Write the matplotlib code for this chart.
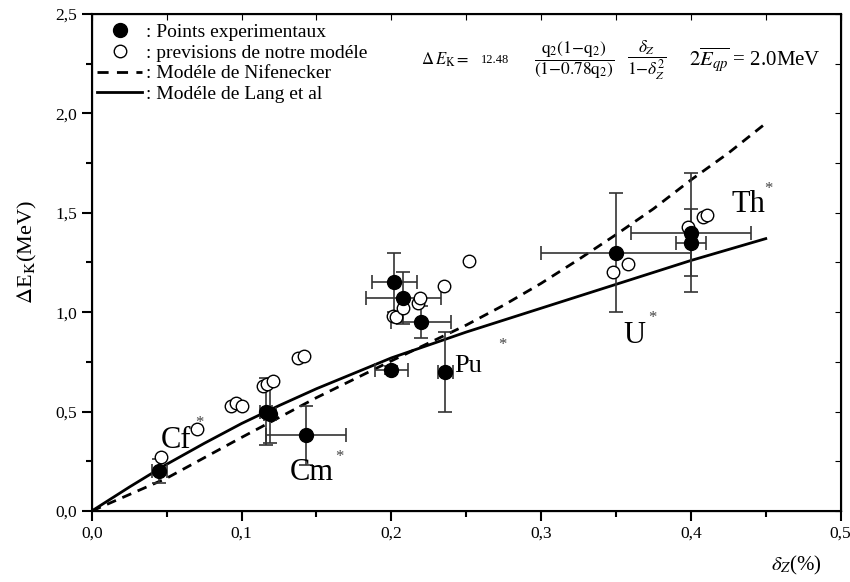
import numpy as np
import matplotlib.pyplot as plt
from matplotlib.lines import Line2D

plt.rcParams['font.family'] = ['Liberation Serif', 'DejaVu Serif']
plt.rcParams['mathtext.fontset'] = 'stix'

# points experimentaux (delta_Z, Delta E_K) with errors
exp_x = [0.045, 0.116, 0.119, 0.143, 0.202, 0.208, 0.220, 0.200, 0.236, 0.350, 0.400, 0.400]
exp_y = [0.20, 0.50, 0.49, 0.38, 1.15, 1.07, 0.95, 0.71, 0.70, 1.30, 1.40, 1.35]
exp_xerr = [0.005, 0.004, 0.004, 0.027, 0.015, 0.025, 0.020, 0.011, 0.005, 0.050, 0.040, 0.010]
exp_yerr = [0.06, 0.17, 0.15, 0.15, 0.15, 0.13, 0.08, 0.02, 0.20, 0.30, 0.30, 0.17]

# previsions du modele
mod_x = [0.046, 0.070, 0.093, 0.096, 0.100, 0.114, 0.117, 0.121, 0.1375, 0.1415,
         0.201, 0.203, 0.208, 0.218, 0.219, 0.235, 0.252, 0.348, 0.358, 0.398, 0.408, 0.411]
mod_y = [0.27, 0.41, 0.53, 0.545, 0.53, 0.63, 0.64, 0.655, 0.77, 0.78,
         0.98, 0.975, 1.02, 1.045, 1.07, 1.13, 1.255, 1.20, 1.24, 1.43, 1.48, 1.49]

# courbes
nif_x = [0.0, 0.05, 0.1, 0.15, 0.2, 0.25, 0.275, 0.3, 0.325, 0.35, 0.375, 0.4, 0.425, 0.45]
nif_y = [0.0, 0.165, 0.37, 0.57, 0.755, 0.935, 1.035, 1.145, 1.265, 1.39, 1.52, 1.665, 1.80, 1.95]
lang_x = [0.0, 0.025, 0.05, 0.075, 0.1, 0.125, 0.15, 0.2, 0.25, 0.3, 0.35, 0.4, 0.45]
lang_y = [0.0, 0.12, 0.235, 0.34, 0.44, 0.53, 0.615, 0.77, 0.90, 1.02, 1.14, 1.26, 1.37]

labels = [': Points experimentaux', ': previsions de notre modéle',
          ': Modéle de Nifenecker', ': Modéle de Lang et al']

# noyaux: (nom, x, y, taille) et asterisques
nuclei = [('Cf', 0.046, 0.317, 22), ('Cm', 0.132, 0.156, 22), ('Pu', 0.242, 0.70, 19),
          ('U', 0.355, 0.845, 22), ('Th', 0.427, 1.506, 22)]
stars = [(0.072, 0.443), (0.1656, 0.27), (0.274, 0.835), (0.374, 0.97), (0.452, 1.62)]

fig = plt.figure(figsize=(8.5, 5.82), dpi=100)
ax = fig.add_axes([0.108, 0.122, 0.881, 0.854])

ax.plot(nif_x, nif_y, 'k--', lw=2, dashes=(3.5, 2.5))
ax.plot(lang_x, lang_y, 'k-', lw=2)
ax.errorbar(exp_x, exp_y, xerr=exp_xerr, yerr=exp_yerr, fmt='none',
            ecolor='#333333', elinewidth=1.2, capsize=5, capthick=1.2)
ax.plot(mod_x, mod_y, 'o', mfc='white', mec='black', ms=9, mew=1)
ax.plot(exp_x, exp_y, 'o', color='black', ms=10)

ax.set_xlim(0, 0.5)
ax.set_ylim(0, 2.5)
xt = np.arange(0, 0.51, 0.1)
yt = np.arange(0, 2.51, 0.5)
ax.set_xticks(xt)
ax.set_yticks(yt)
ax.set_xticklabels([f'{v:.1f}'.replace('.', ',') for v in xt])
ax.set_yticklabels([f'{v:.1f}'.replace('.', ',') for v in yt])
ax.set_xticks(np.arange(0.05, 0.5, 0.1), minor=True)
ax.set_yticks(np.arange(0.25, 2.5, 0.5), minor=True)
ax.tick_params(which='major', direction='out', length=7, width=1.5, labelsize=12.5)
ax.tick_params(which='minor', direction='out', length=4, width=1.5)
for s in ax.spines.values():
    s.set_linewidth(1.5)

# top/right inner ticks
axt = ax.twiny()
axt.set_xlim(0, 0.5)
axt.set_xticks(np.arange(0, 0.51, 0.05))
axt.tick_params(direction='in', length=4, labeltop=False)
axr = ax.twinx()
axr.set_ylim(0, 2.5)
axr.set_yticks(np.arange(0, 2.51, 0.25))
axr.tick_params(direction='in', length=4, labelright=False)

ax.set_ylabel(r'$\Delta$E$_{\mathrm{K}}$(MeV)', fontsize=16)
ax.yaxis.set_label_coords(-0.07, 0.52)
ax.text(0.975, -0.109, r'$\delta_Z$(%)', transform=ax.transAxes, fontsize=15,
        ha='right', va='center')

handles = [
    Line2D([], [], ls='none', marker='o', color='black', ms=10),
    Line2D([], [], ls='none', marker='o', mfc='white', mec='black', ms=9),
    Line2D([], [], ls='--', color='black', lw=2, dashes=(4, 3)),
    Line2D([], [], ls='-', color='black', lw=2),
]
ax.legend(handles, labels, loc='upper left', frameon=False, fontsize=14,
          handlelength=2.3, handletextpad=0.2, labelspacing=0.15,
          borderaxespad=0.2, bbox_to_anchor=(-0.008, 1.004))

fy = 2.268
ax.text(0.220, fy, r'$\Delta\,E_{\mathrm{K}}=$', fontsize=12, va='center')
ax.text(0.260, fy, '12.48', fontsize=9, va='center')
ax.text(0.322, fy, r'$\dfrac{\mathrm{q}_2(1\mathrm{-q}_2)}{(1\mathrm{-0.78q}_2)}$', fontsize=12.5,
        va='center', ha='center')
ax.text(0.3705, fy, r'$\dfrac{\delta_Z}{1\mathrm{-}\delta_Z^2}$', fontsize=12.5,
        va='center', ha='center')
ax.text(0.487, fy, r'$2\overline{E_{qp}}$ = 2.0MeV', fontsize=15, va='center', ha='right')

for name, nx, ny, fs in nuclei:
    ax.text(nx, ny, name, fontsize=fs)
for sx, sy in stars:
    ax.text(sx, sy, '*', fontsize=12, ha='center', va='center', color='#444444')

plt.savefig('out.png', dpi=100)
